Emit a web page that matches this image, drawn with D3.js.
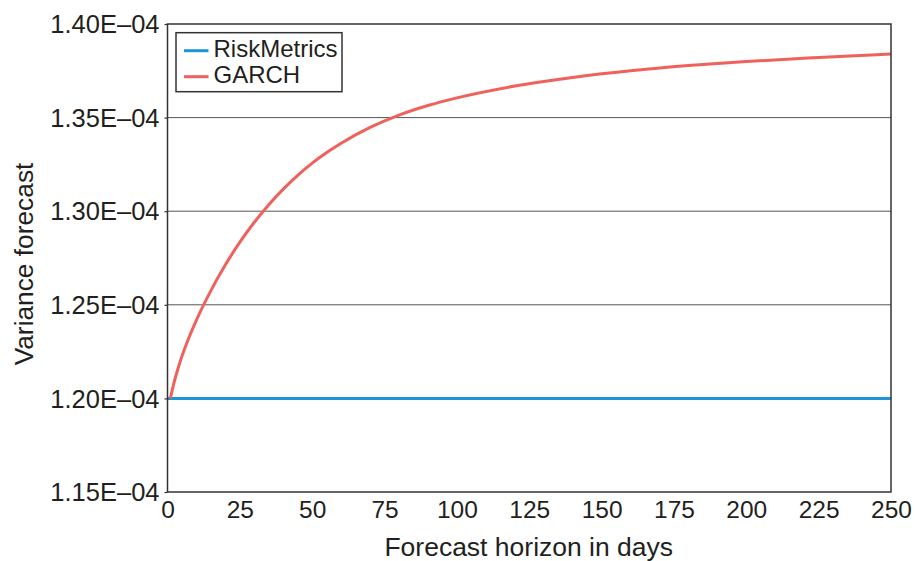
<!DOCTYPE html>
<html>
<head>
<meta charset="utf-8">
<script src="https://cdn.jsdelivr.net/npm/d3@7"></script>
<style>
  html, body { margin: 0; padding: 0; background: #fff; }
  svg { display: block; font-family: "Liberation Sans", Arial, Helvetica, sans-serif; }
</style>
</head>
<body>
<svg id="chart" width="915" height="561"></svg>
<script>
// ---- Data ----
const garchDays = [1, 2, 4, 7, 10, 15, 20, 25, 30, 35, 40, 45, 50, 55, 60, 70, 80, 90, 100, 120, 140, 160, 180, 200, 225, 250];
const garchVar = [1.2000e-4, 1.20685e-4, 1.21785e-4, 1.2309e-4, 1.24185e-4, 1.2576e-4, 1.27135e-4, 1.28348e-4,
                  1.2941e-4, 1.30348e-4, 1.3118e-4, 1.3192e-4, 1.32565e-4, 1.3313e-4, 1.3363e-4, 1.34475e-4,
                  1.35135e-4, 1.35645e-4, 1.36055e-4, 1.36685e-4, 1.37145e-4, 1.3750e-4, 1.37777e-4,
                  1.37996e-4, 1.38211e-4, 1.3840e-4];
const riskDays = [0, 250];
const riskVar = [1.20e-4, 1.20e-4];
const yTicks = [1.15e-4, 1.20e-4, 1.25e-4, 1.30e-4, 1.35e-4, 1.40e-4];
const xTicks = [0, 25, 50, 75, 100, 125, 150, 175, 200, 225, 250];
const seriesNames = ["RiskMetrics", "GARCH"];
const seriesColors = ["#1b96d2", "#f0615b"];

// ---- Layout ----
const svg = d3.select("#chart");
const L = 167.5, R = 891, T = 24, B = 492;
const x = d3.scaleLinear().domain([0, 250]).range([L, R]);
const y = d3.scaleLinear().domain([1.15e-4, 1.40e-4]).range([B, T]);

// gridlines
svg.append("g").selectAll("line")
  .data(yTicks.filter(v => v > 1.151e-4 && v < 1.399e-4))
  .join("line")
  .attr("x1", L).attr("x2", R)
  .attr("y1", d => y(d)).attr("y2", d => y(d))
  .attr("stroke", "#555").attr("stroke-width", 1);

// y axis
const yAxis = d3.axisLeft(y).tickValues(yTicks).tickSize(3).tickPadding(5)
  .tickFormat(d => d3.format(".2f")(d * 1e4) + "E\u201304");
const gy = svg.append("g").attr("transform", `translate(${L},0)`).call(yAxis);
gy.select(".domain").remove();
gy.selectAll(".tick line").attr("stroke", "#333").attr("stroke-width", 1.2);
gy.selectAll(".tick text").attr("font-size", "25.5px").attr("fill", "#231f20")
  .attr("font-family", "Liberation Sans, Arial, sans-serif").attr("dy", "0.34em");

// x axis
const xAxis = d3.axisBottom(x).tickValues(xTicks).tickSize(0).tickPadding(9);
const gx = svg.append("g").attr("transform", `translate(0,${B})`).call(xAxis);
gx.select(".domain").remove();
gx.selectAll(".tick text").attr("font-size", "24.5px").attr("fill", "#231f20")
  .attr("font-family", "Liberation Sans, Arial, sans-serif");

// lines
const line = d3.line().x(d => x(d[0])).y(d => y(d[1])).curve(d3.curveMonotoneX);
svg.append("path")
  .datum(riskDays.map((d, i) => [d, riskVar[i]]))
  .attr("d", line).attr("fill", "none")
  .attr("stroke", seriesColors[0]).attr("stroke-width", 3);
svg.append("path")
  .datum(garchDays.map((d, i) => [d, garchVar[i]]))
  .attr("d", line).attr("fill", "none")
  .attr("stroke", seriesColors[1]).attr("stroke-width", 3);

// frame
svg.append("rect").attr("x", L).attr("y", T).attr("width", R - L).attr("height", B - T)
  .attr("fill", "none").attr("stroke", "#333").attr("stroke-width", 1.5);

// axis titles
svg.append("text").attr("x", (L + R) / 2 - 0.5).attr("y", 556)
  .attr("text-anchor", "middle").attr("font-size", "26.5px").attr("fill", "#231f20")
  .text("Forecast horizon in days");
svg.append("text").attr("transform", "translate(33,264) rotate(-90)")
  .attr("text-anchor", "middle").attr("font-size", "26.3px").attr("fill", "#231f20")
  .text("Variance forecast");

// legend
const lg = svg.append("g");
lg.append("rect").attr("x", 176).attr("y", 32.7).attr("width", 166).attr("height", 59)
  .attr("fill", "#fff").attr("stroke", "#333").attr("stroke-width", 1.5);
const ly = [50.7, 76.7];
seriesNames.forEach((n, i) => {
  lg.append("line").attr("x1", 184).attr("x2", 208.5).attr("y1", ly[i]).attr("y2", ly[i])
    .attr("stroke", seriesColors[i]).attr("stroke-width", 3);
  lg.append("text").attr("x", 213.5).attr("y", ly[i] + 5.8)
    .attr("font-size", "24px").attr("fill", "#231f20").text(n);
});
</script>
</body>
</html>
